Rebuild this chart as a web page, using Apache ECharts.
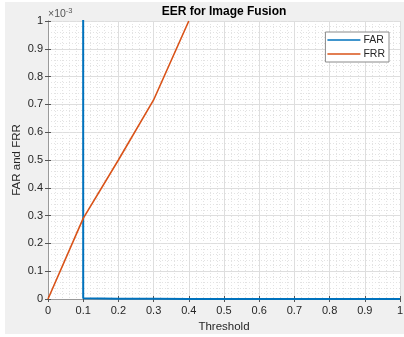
<!DOCTYPE html>
<html><head><meta charset="utf-8">
<script src="https://cdn.jsdelivr.net/npm/echarts@6/dist/echarts.min.js"></script>
<style>
html,body{margin:0;padding:0;background:#ffffff;}
#bg{position:absolute;left:5px;top:2px;width:399px;height:332px;background:#f0f0f0;}
#c{position:absolute;left:0;top:0;width:404px;height:337px;}
</style></head>
<body><div id="bg"></div><div id="c"></div>
<script>
var thresholds = [0, 0.1, 0.2, 0.3, 0.4, 0.5, 0.6, 0.7, 0.8, 0.9, 1];
var farValues = [1, 0.000003, 0.0000012, 0.0000006, 0.0000003, 0.0000002, 0.0000001, 0.00000005, 0, 0, 0];
var frrValues = [0, 0.00029, 0.0005, 0.000716, 0.001];
var xTicks = [0, 0.1, 0.2, 0.3, 0.4, 0.5, 0.6, 0.7, 0.8, 0.9, 1];
var yTicks = [0, 0.1, 0.2, 0.3, 0.4, 0.5, 0.6, 0.7, 0.8, 0.9, 1];
var titleText = 'EER for Image Fusion';
var xName = 'Threshold';
var yName = 'FAR and FRR';

var FONT = 'Liberation Sans, Arial, sans-serif';
var TXT = '#262626';
function pair(xs, ys){ return ys.map(function(v,i){ return [xs[i], v]; }); }
function fmtY(v){ return String(parseFloat((v*1000).toFixed(3))); }
function fmtX(v){ return String(parseFloat(v.toFixed(3))); }

var chart = echarts.init(document.getElementById('c'), null, {renderer:'canvas'});
var gridLine = {show:true, lineStyle:{color:'#dedede', width:1}};
var minorLine = {show:true, lineStyle:{color:'#e3e3e3', width:1, type:[1,2]}};
var axisLine = {show:true, lineStyle:{color:'#9a9a9a', width:1}};
var tick = {show:true, inside:true, length:3, lineStyle:{color:'#555', width:1}};
chart.setOption({
  backgroundColor:'transparent',
  animation:false,
  grid:{left:48, right:4, top:21, bottom:38, show:true, backgroundColor:'#fff', borderWidth:0,
    containLabel:false, outerBoundsMode:'none'},
  legend:{
    data:['FAR','FRR'], orient:'vertical', right:15, top:32,
    icon:'rect', itemWidth:33, itemHeight:1.6, itemGap:2,
    padding:[2,4,2,2], borderColor:'#8a8a8a', borderWidth:1, backgroundColor:'#fff',
    textStyle:{fontFamily:FONT, fontSize:10.5, color:TXT, padding:[0,0,0,-2], lineHeight:12}
  },
  graphic:[
    {type:'text', x:224, y:12,
      style:{text:titleText, x:0, y:0, align:'center', verticalAlign:'middle',
        font:'bold 12px ' + FONT, fill:'#000'}},
    {type:'text', left:48, top:7,
      style:{text:'{a|\u00d710}{b|-3}', rich:{a:{fontFamily:FONT, fontSize:10.5, fill:'#555'}, b:{fontFamily:FONT, fontSize:7.5, fill:'#555', verticalAlign:'top', padding:[0,0,6,0]}}}}
  ],
  xAxis:[{
    type:'value', min:xTicks[0], max:xTicks[xTicks.length-1], interval:0.1,
    name:xName, nameLocation:'middle', nameGap:22, nameMoveOverlap:false,
    nameTextStyle:{fontFamily:FONT, fontSize:11.5, color:TXT},
    axisLine:axisLine, axisTick:tick,
    axisLabel:{fontFamily:FONT, fontSize:11, color:TXT, margin:6, formatter:fmtX},
    splitLine:gridLine, minorTick:{show:false, splitNumber:5}, minorSplitLine:minorLine
  },{
    type:'value', position:'top', min:0, max:1, interval:0.1,
    axisLine:axisLine, axisTick:tick, axisLabel:{show:false}, splitLine:{show:false}
  }],
  yAxis:[{
    type:'value', min:yTicks[0]/1000, max:yTicks[yTicks.length-1]/1000, interval:0.0001,
    name:yName, nameLocation:'middle', nameGap:25, nameMoveOverlap:false,
    nameTextStyle:{fontFamily:FONT, fontSize:11.5, color:TXT},
    axisLine:axisLine, axisTick:tick,
    axisLabel:{fontFamily:FONT, fontSize:11, color:TXT, margin:5, formatter:fmtY},
    splitLine:gridLine, minorTick:{show:false, splitNumber:5}, minorSplitLine:minorLine
  },{
    type:'value', position:'right', min:0, max:0.001, interval:0.0001,
    axisLine:axisLine, axisTick:tick, axisLabel:{show:false}, splitLine:{show:false}
  }],
  series:[
    {name:'FAR', type:'line', data:pair(thresholds, farValues), symbol:'none', clip:true,
      lineStyle:{color:'#0072BD', width:2}, itemStyle:{color:'#0072BD'}},
    {name:'FRR', type:'line', data:pair(thresholds, frrValues), symbol:'none', clip:true,
      lineStyle:{color:'#D95319', width:1.6}, itemStyle:{color:'#D95319'}}
  ]
});
</script></body></html>
